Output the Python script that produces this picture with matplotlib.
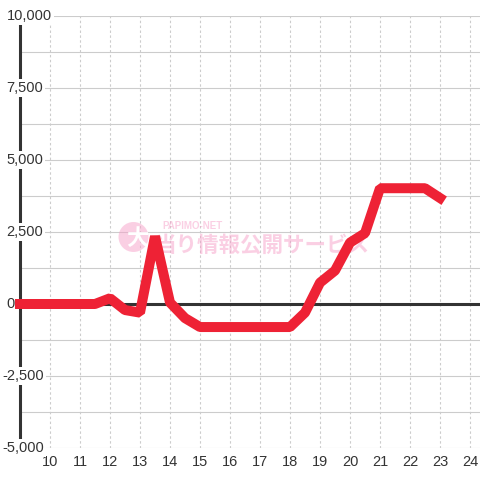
import numpy as np
import matplotlib
matplotlib.use("Agg")
import matplotlib.pyplot as plt
from matplotlib.patches import Circle

# half-hourly values, 9:00 .. 23:00
hours = np.arange(9, 23.01, 0.5)
values = [0, 0, 0, 0, 0, 0, 200, -210, -300, 2350, 50, -490, -800,
          -800, -800, -800, -800, -800, -800, -300, 740, 1160, 2130, 2460,
          4020, 4020, 4020, 4020, 3680]

x_ticks = list(range(10, 25))
y_ticks = [-5000, -2500, 0, 2500, 5000, 7500, 10000]
y_grid = np.arange(-5000, 10001, 1250)

plt.rcParams['font.family'] = ['Liberation Sans', 'DejaVu Sans']

fig = plt.figure(figsize=(4.8, 4.8), dpi=100)
ax = fig.add_axes([20/480, 32/480, 460/480, 432/480])
ax.set_xlim(9, 9 + 460/30)
ax.set_ylim(-5000, 10000)

# grid
for g in y_grid:
    ax.axhline(g, color='#cccccc', lw=0.8, zorder=1)
for h in x_ticks:
    ax.axvline(h, color='#cccccc', lw=0.8, ls=(0, (2.2, 2.2)), zorder=1)

ax.axhline(0, color='#333333', lw=2.2, zorder=3)

for s in ['top', 'right', 'bottom']:
    ax.spines[s].set_visible(False)
ax.spines['left'].set_color('#333333')
ax.spines['left'].set_linewidth(2.2)
ax.spines['left'].set_zorder(3)

ax.set_xticks(x_ticks)
ax.set_xticklabels([str(h) for h in x_ticks], fontsize=10.5, color='#333333')
ax.tick_params(axis='x', length=0, pad=5)
ax.set_yticks([])

# y labels (left aligned, minus sign hangs out) with white box over the spine
for v in y_ticks:
    lab = f"{v:,}"
    x0 = 2 if v < 0 else 6.5
    ax.text((x0 - 20)/460, v, lab, ha='left', va='center', fontsize=10.5, color='#333333',
            transform=ax.get_yaxis_transform(), clip_on=False, zorder=5,
            bbox=dict(facecolor='white', edgecolor='none', pad=1.5))

# watermark
pink = '#f7a1c9'
ax.add_patch(Circle((133.5/480, 1 - 237/480), 15/480, transform=fig.transFigure,
                    facecolor=pink, alpha=0.5, edgecolor='none', zorder=2.8))
ax.text(137/480, 1 - 238/480, '大', transform=fig.transFigure, ha='center', va='center',
        fontsize=16, color='white', fontweight='bold', family='Noto Sans CJK JP', zorder=2.9)
ax.text(155/480, 1 - 245/480, '当り情報公開サービス', transform=fig.transFigure,
        ha='left', va='center', fontsize=15.5, fontweight='bold', color=pink, alpha=0.5,
        family='Noto Sans CJK JP', zorder=2.8)
ax.text(162/480, 1 - 226/480, 'PAPIMO-NET', transform=fig.transFigure,
        ha='left', va='center', fontsize=7, fontweight='bold', color=pink, alpha=0.5,
        family='Liberation Sans', zorder=2.8)

# main line
ax.plot(hours, values, color='#ee2235', lw=7.2, solid_joinstyle='bevel',
        solid_capstyle='projecting', clip_on=False, zorder=6)

fig.savefig('out.png', dpi=100, facecolor='white')
